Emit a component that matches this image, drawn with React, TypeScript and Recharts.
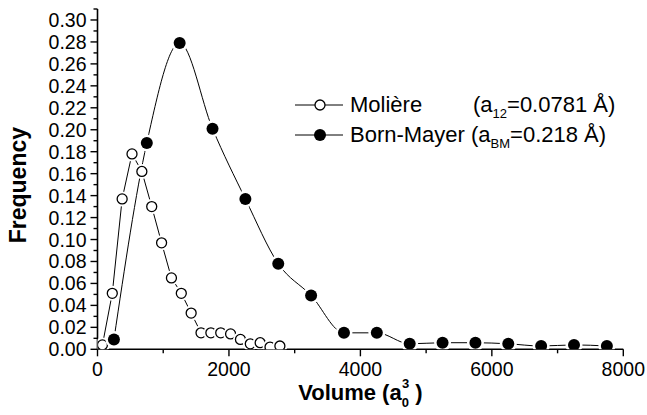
import { LineChart, Line, XAxis, YAxis, Legend } from 'recharts'

// Molière potential, a12 = 0.0781 Å
const molVolume = [75, 225, 375, 525, 675, 825, 975, 1125, 1275, 1425, 1575, 1725, 1875, 2025, 2175, 2325, 2475, 2625, 2775]
const molFreq = [0.004, 0.051, 0.137, 0.178, 0.162, 0.130, 0.097, 0.065, 0.051, 0.033, 0.015, 0.015, 0.015, 0.014, 0.009, 0.005, 0.006, 0.002, 0.003]

// Born-Mayer potential, aBM = 0.218 Å
const bmVolume = [250, 750, 1250, 1750, 2250, 2750, 3250, 3750, 4250, 4750, 5250, 5750, 6250, 6750, 7250, 7750]
const bmFreq = [0.009, 0.188, 0.279, 0.201, 0.137, 0.078, 0.049, 0.015, 0.015, 0.005, 0.006, 0.006, 0.005, 0.003, 0.004, 0.003]

const xTicks = [0, 1000, 2000, 3000, 4000, 5000, 6000, 7000, 8000]
const yTicks = [
  0, 0.01, 0.02, 0.03, 0.04, 0.05, 0.06, 0.07, 0.08, 0.09, 0.1, 0.11, 0.12, 0.13, 0.14, 0.15,
  0.16, 0.17, 0.18, 0.19, 0.2, 0.21, 0.22, 0.23, 0.24, 0.25, 0.26, 0.27, 0.28, 0.29, 0.3, 0.31,
]

const moliere = molVolume.map((v, i) => ({ volume: v, freq: molFreq[i] }))
const bornMayer = bmVolume.map((v, i) => ({ volume: v, freq: bmFreq[i] }))

const FONT = 'Arial, "Liberation Sans", Helvetica, sans-serif'
const TICK = 7
const GAP = 5

function YTick({ x, y, payload }: any) {
  const ax = x + TICK + GAP
  const n = Math.round(payload.value * 100)
  const major = n % 2 === 0
  return (
    <g>
      <line x1={ax - (major ? 7 : 4)} x2={ax} y1={y} y2={y} stroke="#000" strokeWidth={1.4} />
      {major && (
        <text x={x + 1} y={y} dy={7} textAnchor="end" fontSize={19.5} fontFamily={FONT} fill="#000">
          {payload.value.toFixed(2)}
        </text>
      )}
    </g>
  )
}

function XTick({ x, y, payload }: any) {
  const ay = y - TICK - GAP
  const major = payload.value % 2000 === 0
  return (
    <g>
      <line x1={x} x2={x} y1={ay} y2={ay + (major ? 7 : 4)} stroke="#000" strokeWidth={1.4} />
      {major && (
        <text x={x} y={ay + 27} textAnchor="middle" fontSize={19.5} fontFamily={FONT} fill="#000">
          {payload.value}
        </text>
      )}
    </g>
  )
}

function XTitle({ viewBox }: any) {
  const cx = viewBox.x + viewBox.width / 2
  return (
    <text x={cx} y={400} textAnchor="middle" fontFamily={FONT} fontWeight="bold" fontSize={22} fill="#000">
      Volume (a
      <tspan fontSize={13} dy={7}>0</tspan>
      <tspan fontSize={13} dx={-7} dy={-19}>3</tspan>
      <tspan fontSize={22} dy={12}>{' )'}</tspan>
    </text>
  )
}

function YTitle({ viewBox }: any) {
  const cy = viewBox.y + viewBox.height / 2 + 6
  return (
    <text
      x={26}
      y={cy}
      transform={`rotate(-90, 26, ${cy})`}
      textAnchor="middle"
      fontFamily={FONT}
      fontWeight="bold"
      fontSize={23}
      fill="#000"
    >
      Frequency
    </text>
  )
}

function OpenDot({ cx, cy }: any) {
  return (
    <g>
      <circle cx={cx} cy={cy} r={7.5} fill="#fff" />
      <circle cx={cx} cy={cy} r={5} fill="#fff" stroke="#000" strokeWidth={1.3} />
    </g>
  )
}

function FilledDot({ cx, cy }: any) {
  return (
    <g>
      <circle cx={cx} cy={cy} r={8.5} fill="#fff" />
      <circle cx={cx} cy={cy} r={6} fill="#000" />
    </g>
  )
}

function LegendBox() {
  const sub = { fontSize: 13, position: 'relative' as const, top: 6 }
  const row = { display: 'flex', alignItems: 'center', height: 30, position: 'relative' as const, whiteSpace: 'nowrap' as const }
  return (
    <div style={{ fontFamily: FONT, fontSize: 22, color: '#000', width: 345 }}>
      <div style={row}>
        <svg width={52} height={16}>
          <line x1={0} x2={48} y1={8} y2={8} stroke="#000" strokeWidth={1} />
          <circle cx={25} cy={8} r={5} fill="#fff" stroke="#000" strokeWidth={1.3} />
        </svg>
        <span style={{ marginLeft: 3 }}>Molière</span>
        <span style={{ position: 'absolute', left: 178 }}>
          (a<span style={sub}>12</span>=0.0781 Å)
        </span>
      </div>
      <div style={row}>
        <svg width={52} height={16}>
          <line x1={0} x2={48} y1={8} y2={8} stroke="#000" strokeWidth={1} />
          <circle cx={25} cy={8} r={6} fill="#000" />
        </svg>
        <span style={{ marginLeft: 3 }}>
          Born-Mayer (a<span style={sub}>BM</span>=0.218 Å)
        </span>
      </div>
    </div>
  )
}

export default function App() {
  return (
    <div style={{ position: 'absolute', left: 0, top: 0, width: 647, height: 415, background: '#fff' }}>
      <LineChart width={647} height={415} margin={{ top: 9, right: 23.7, bottom: 25.7, left: 37.5 }}>
        <XAxis
          type="number"
          dataKey="volume"
          domain={[0, 8000]}
          ticks={xTicks}
          interval={0}
          tickSize={TICK}
          tickMargin={GAP}
          tickLine={false}
          tick={<XTick />}
          axisLine={{ stroke: '#000', strokeWidth: 1.6 }}
          height={40}
          allowDataOverflow
          label={<XTitle />}
        />
        <YAxis
          type="number"
          domain={[0, 0.31]}
          ticks={yTicks}
          interval={0}
          tickSize={TICK}
          tickMargin={GAP}
          tickLine={false}
          tick={<YTick />}
          axisLine={{ stroke: '#000', strokeWidth: 1.6 }}
          width={60}
          allowDataOverflow
          label={<YTitle />}
        />
        <Legend
          layout="horizontal"
          verticalAlign="middle"
          align="center"
          wrapperStyle={{ position: 'absolute', left: 295, top: 90, width: 345 }}
          content={() => <LegendBox />}
        />
        <Line
          data={moliere}
          dataKey="freq"
          name="Molière"
          type="linear"
          stroke="#000"
          strokeWidth={1}
          dot={<OpenDot />}
          activeDot={false}
          isAnimationActive={false}
        />
        <Line
          data={bornMayer}
          dataKey="freq"
          name="Born-Mayer"
          type="monotone"
          stroke="#000"
          strokeWidth={1}
          dot={<FilledDot />}
          activeDot={false}
          isAnimationActive={false}
        />
      </LineChart>
    </div>
  )
}
